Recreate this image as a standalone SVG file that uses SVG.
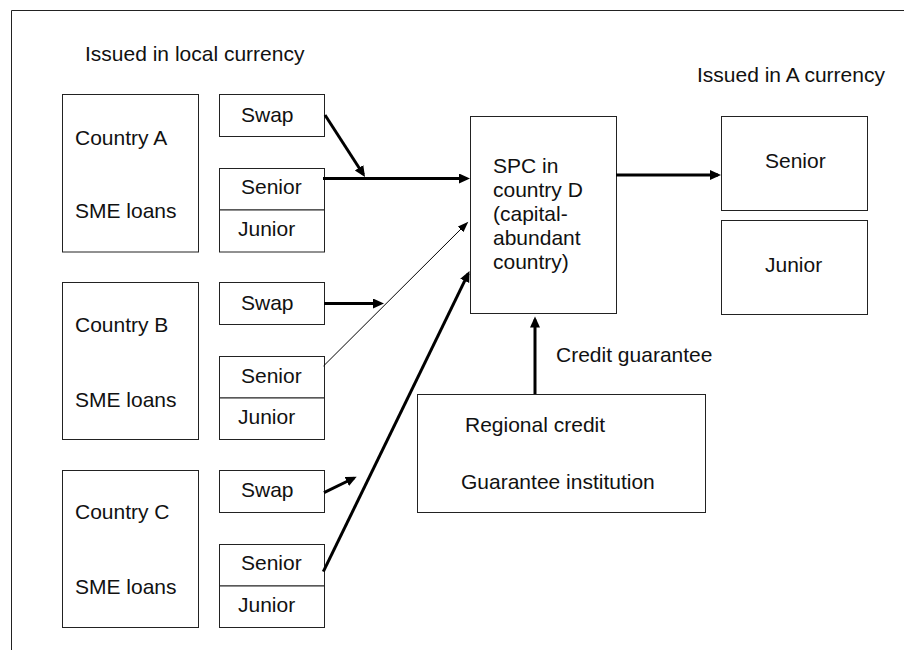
<svg xmlns="http://www.w3.org/2000/svg" width="904" height="650" viewBox="0 0 904 650">
<style>
  .box { fill: #ffffff; stroke: #222222; stroke-width: 1; }
  .t { font-family: "Liberation Sans", Arial, sans-serif; font-size: 21px; fill: #111111; }
  .thick { stroke: #000000; stroke-width: 3; fill: none; }
  .thin { stroke: #000000; stroke-width: 1; fill: none; }
</style>
<defs>
  <marker id="ah" markerUnits="userSpaceOnUse" markerWidth="12" markerHeight="12" refX="8" refY="5" orient="auto">
    <path d="M0,0 L11,5 L0,10 z" fill="#000000"/>
  </marker>
  <marker id="ahs" markerUnits="userSpaceOnUse" markerWidth="12" markerHeight="10" refX="9" refY="4" orient="auto">
    <path d="M0,0 L11,4 L0,8 z" fill="#000000"/>
  </marker>
</defs>
<rect x="0" y="0" width="904" height="650" fill="#ffffff"/>
<g id="frame">
  <path d="M11.5,650 L11.5,10.5 L904,10.5" fill="none" stroke="#222222" stroke-width="1"/>
</g>
<g id="labels">
  <text class="t" x="85" y="61">Issued in local currency</text>
  <text class="t" x="697" y="82">Issued in A currency</text>
  <text class="t" x="556" y="362">Credit guarantee</text>
</g>
<g id="countryA">
  <rect class="box" x="62.5" y="94.5" width="136" height="157.5"/>
  <text class="t" x="75" y="145">Country A</text>
  <text class="t" x="75" y="218">SME loans</text>
</g>
<g id="swapA">
  <rect class="box" x="219.5" y="94.5" width="105" height="42"/>
  <text class="t" x="241" y="122">Swap</text>
</g>
<g id="trancheA">
  <rect class="box" x="219.5" y="168.5" width="105" height="41.5"/>
  <rect class="box" x="219.5" y="210" width="105" height="42"/>
  <text class="t" x="241" y="194">Senior</text>
  <text class="t" x="238" y="236">Junior</text>
</g>
<g id="countryB">
  <rect class="box" x="62.5" y="282.5" width="136" height="157"/>
  <text class="t" x="75" y="332">Country B</text>
  <text class="t" x="75" y="407">SME loans</text>
</g>
<g id="swapB">
  <rect class="box" x="219.5" y="282.5" width="105" height="42"/>
  <text class="t" x="241" y="310">Swap</text>
</g>
<g id="trancheB">
  <rect class="box" x="219.5" y="356.5" width="105" height="41.5"/>
  <rect class="box" x="219.5" y="398" width="105" height="41.5"/>
  <text class="t" x="241" y="383">Senior</text>
  <text class="t" x="238" y="424">Junior</text>
</g>
<g id="countryC">
  <rect class="box" x="62.5" y="470.5" width="136" height="157"/>
  <text class="t" x="75" y="519">Country C</text>
  <text class="t" x="75" y="594">SME loans</text>
</g>
<g id="swapC">
  <rect class="box" x="219.5" y="470.5" width="105" height="42"/>
  <text class="t" x="241" y="497">Swap</text>
</g>
<g id="trancheC">
  <rect class="box" x="219.5" y="544.5" width="105" height="41.5"/>
  <rect class="box" x="219.5" y="586" width="105" height="41.5"/>
  <text class="t" x="241" y="570">Senior</text>
  <text class="t" x="238" y="612">Junior</text>
</g>
<g id="spc">
  <rect class="box" x="470.5" y="116.5" width="146" height="197"/>
  <text class="t" x="493" y="173">SPC in</text>
  <text class="t" x="493" y="197">country D</text>
  <text class="t" x="493" y="221">(capital-</text>
  <text class="t" x="493" y="245">abundant</text>
  <text class="t" x="493" y="269">country)</text>
</g>
<g id="seniorOut">
  <rect class="box" x="721.5" y="116.5" width="146" height="94"/>
  <text class="t" x="765" y="168">Senior</text>
</g>
<g id="juniorOut">
  <rect class="box" x="721.5" y="220.5" width="146" height="94"/>
  <text class="t" x="765" y="272">Junior</text>
</g>
<g id="guarantor">
  <rect class="box" x="417.5" y="394.5" width="288" height="118"/>
  <text class="t" x="465" y="432">Regional credit</text>
  <text class="t" x="461" y="489">Guarantee institution</text>
</g>
<g id="connectors">
  <line class="thick" x1="325" y1="115" x2="363.4" y2="174.5" marker-end="url(#ah)"/>
  <line class="thick" x1="323" y1="178.5" x2="467" y2="178.5" marker-end="url(#ah)"/>
  <line class="thick" x1="324" y1="303.5" x2="381" y2="303.5" marker-end="url(#ah)"/>
  <line class="thin" x1="323.5" y1="366" x2="466.9" y2="223.1" marker-end="url(#ahs)"/>
  <line class="thick" x1="324" y1="492.7" x2="354" y2="478" marker-end="url(#ah)"/>
  <line class="thick" x1="323.3" y1="571.7" x2="468.2" y2="273.7" marker-end="url(#ah)"/>
  <line class="thick" x1="616" y1="175" x2="718" y2="175" marker-end="url(#ah)"/>
  <line class="thick" x1="535" y1="394" x2="535" y2="319.5" marker-end="url(#ah)"/>
</g>
</svg>
